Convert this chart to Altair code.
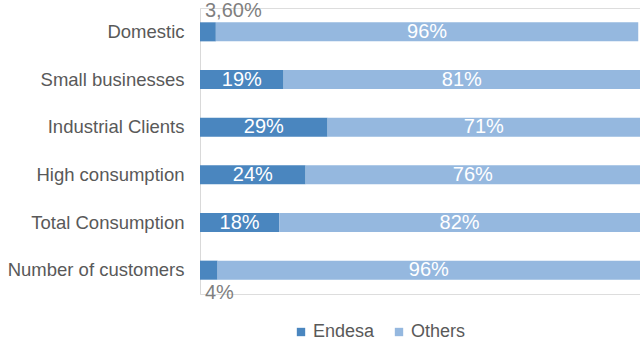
import altair as alt
import pandas as pd

categories = ["Domestic", "Small businesses", "Industrial Clients",
              "High consumption", "Total Consumption", "Number of customers"]
endesa = [3.6, 19, 29, 24, 18, 4]
others = [96, 81, 71, 76, 82, 96]
endesa_labels = ["3,60%", "19%", "29%", "24%", "18%", "4%"]
others_labels = ["96%", "81%", "71%", "76%", "82%", "96%"]
endesa_label_pos = ["above", "inside", "inside", "inside", "inside", "below"]

rows = []
for i, c in enumerate(categories):
    rows.append(dict(cat=c, series="Endesa", start=0, end=endesa[i],
                     label=endesa_labels[i], pos=endesa_label_pos[i], order=0))
    rows.append(dict(cat=c, series="Others", start=endesa[i], end=endesa[i] + others[i],
                     label=others_labels[i], pos="inside", order=1))
df = pd.DataFrame(rows)
df["mid"] = (df["start"] + df["end"]) / 2

FONT = "Liberation Sans"

y_enc = alt.Y("cat:N", sort=categories, title=None,
              scale=alt.Scale(paddingInner=0.6, paddingOuter=0.3),
              axis=alt.Axis(labelFont=FONT, labelFontSize=18.5, labelColor="#595959",
                            ticks=False, labelPadding=16, domainColor="#d9d9d9",
                            domainWidth=1, grid=False))
x_scale = alt.Scale(domain=[0, 100], nice=False, zero=True)

base = alt.Chart(df)

bars = base.mark_bar().encode(
    x=alt.X("start:Q", scale=x_scale, axis=None),
    x2="end:Q",
    y=y_enc,
    color=alt.Color("series:N",
                    scale=alt.Scale(domain=["Endesa", "Others"], range=["#4a86bf", "#95b8df"]),
                    legend=alt.Legend(title=None, orient="none", direction="horizontal",
                                      legendX=92, legendY=315, symbolType="square",
                                      symbolSize=70, symbolStrokeWidth=0,
                                      labelFont=FONT, labelFontSize=18, labelColor="#595959",
                                      labelOffset=3, columnPadding=15)),
)

inside = base.transform_filter(alt.datum.pos == "inside").mark_text(
    font=FONT, fontSize=20, color="white", align="center", baseline="middle"
).encode(x=alt.X("mid:Q", scale=x_scale), y=alt.Y("cat:N", sort=categories), text="label:N")

above = base.transform_filter(alt.datum.pos == "above").mark_text(
    font=FONT, fontSize=20, color="#7f7f7f", align="left", baseline="middle", dx=5, dy=-21
).encode(x=alt.X("start:Q", scale=x_scale), y=alt.Y("cat:N", sort=categories), text="label:N")

below = base.transform_filter(alt.datum.pos == "below").mark_text(
    font=FONT, fontSize=20, color="#7f7f7f", align="left", baseline="middle", dx=5, dy=23
).encode(x=alt.X("start:Q", scale=x_scale), y=alt.Y("cat:N", sort=categories), text="label:N")

chart = alt.layer(bars, inside, above, below).properties(
    width=440, height=286,
    autosize=alt.AutoSizeParams(type="none"),
    padding={"left": 200, "top": 8, "right": 0, "bottom": 51},
).configure_view(stroke=None).configure(background="white")

chart.save("out.html", embed_options={"renderer": "svg", "actions": False})
